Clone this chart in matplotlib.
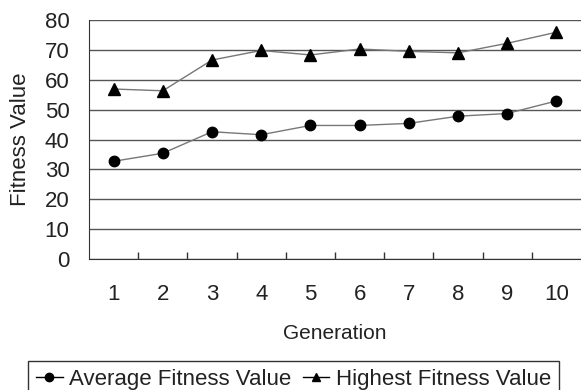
import numpy as np
import matplotlib.pyplot as plt
from matplotlib.ticker import FixedLocator

plt.rcParams['font.family'] = ['Liberation Sans', 'DejaVu Sans']

generations = [1, 2, 3, 4, 5, 6, 7, 8, 9, 10]
avg_fitness = [32.7, 35.4, 42.6, 41.6, 44.7, 44.7, 45.4, 47.8, 48.7, 52.9]
high_fitness = [56.9, 56.3, 66.6, 69.8, 68.3, 70.3, 69.5, 69.0, 72.2, 75.9]
y_ticks = [0, 10, 20, 30, 40, 50, 60, 70, 80]

fig = plt.figure(figsize=(5.81, 3.90), dpi=100)
ax = fig.add_axes([89 / 581, 1 - 259 / 390, 1 - 89 / 581, (259 - 20) / 390])

x = np.arange(len(generations)) + 1
ax.plot(x, avg_fitness, color='#777777', lw=1, marker='o', ms=7.5,
        mfc='black', mec='black', label='Average Fitness Value')
ax.plot(x, high_fitness, color='#777777', lw=1, marker='^', ms=8.5,
        mfc='black', mec='black', label='Highest Fitness Value')

ax.set_xlim(0.5, 10.5)
ax.set_ylim(0, 80)
ax.set_yticks(y_ticks)
ax.set_xticks(x)
ax.set_xticklabels([str(g) for g in generations])
ax.xaxis.set_minor_locator(FixedLocator(np.arange(1.5, 10.5, 1)))
ax.tick_params(axis='x', which='major', length=0, pad=18, labelsize=16, labelcolor='#222222')
ax.tick_params(axis='x', which='minor', direction='in', length=5, width=1, color='#333333')
ax.tick_params(axis='y', length=0, pad=14, labelsize=16, labelcolor='#222222')

ax.grid(axis='y', color='#555555', lw=1)
ax.set_axisbelow(True)
for s in ['top', 'right']:
    ax.spines[s].set_visible(False)
ax.spines['left'].set_color('#333333')
ax.spines['bottom'].set_color('#333333')

ax.set_ylabel('Fitness Value', fontsize=16, labelpad=10, color='#222222')
ax.set_xlabel('Generation', fontsize=15, labelpad=14, color='#222222')

leg = fig.legend(loc='upper center', ncol=2,
                 fontsize=16, handlelength=1.2, handletextpad=0.3, columnspacing=0.5,
                 frameon=True, fancybox=False, edgecolor='black', borderpad=0.35,
                 borderaxespad=0)
leg.set_bbox_to_anchor((293.5 / 581, 1 - 361 / 390), transform=fig.transFigure)
leg.get_frame().set_linewidth(1)
for t in leg.get_texts():
    t.set_color('#222222')
for h in leg.legend_handles:
    h.set_markersize(6)
    h.set_color('black')

fig.savefig('out.png', dpi=100)
